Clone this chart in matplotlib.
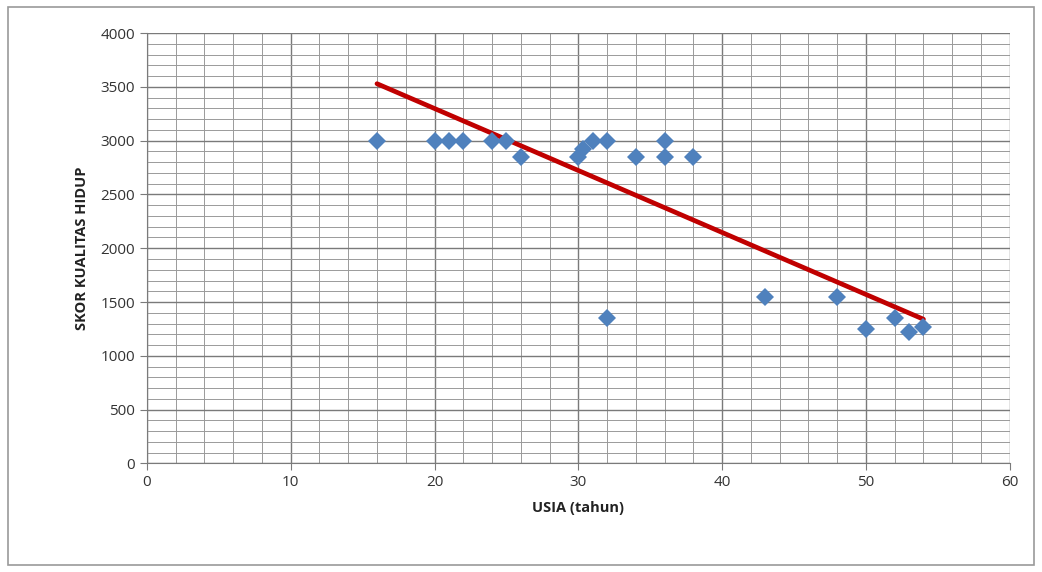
import matplotlib
matplotlib.use("Agg")
from matplotlib import pyplot as plt
from matplotlib.patches import Rectangle

# usia (tahun) vs skor kualitas hidup
usia = [16, 20, 21, 22, 24, 25, 26, 30, 30.3, 31, 32, 32, 34, 36, 36, 38,
        43, 48, 50, 52, 53, 54]
skor = [3000, 3000, 3000, 3000, 3000, 3000, 2850, 2850, 2920, 3000, 3000,
        1350, 2850, 3000, 2850, 2850, 1550, 1550, 1250, 1350, 1220, 1270]

# trendline endpoints
trend_x = [16, 54]
trend_y = [3530, 1340]

xticks = [0, 10, 20, 30, 40, 50, 60]
yticks = [0, 500, 1000, 1500, 2000, 2500, 3000, 3500, 4000]

plt.rcParams["font.family"] = ["Open Sans", "DejaVu Sans"]

fig = plt.figure(figsize=(10.42, 5.72), dpi=100)
fig.patches.append(Rectangle((0.008, 0.012), 0.984, 0.976, transform=fig.transFigure,
                             fill=False, edgecolor="#9a9a9a", linewidth=1.2))

ax = fig.add_axes([0.141, 0.19, 0.828, 0.752])
ax.set_xlim(0, 60)
ax.set_ylim(0, 4000)
ax.set_xticks(xticks)
ax.set_yticks(yticks)
ax.set_xticks(range(0, 61, 2), minor=True)
ax.set_yticks(range(0, 4001, 100), minor=True)

ax.grid(which="major", color="#7a7a7a", linewidth=1.0)
ax.grid(which="minor", color="#9a9a9a", linewidth=0.7)
ax.set_axisbelow(True)

for s in ["top", "right"]:
    ax.spines[s].set_visible(False)
for s in ["left", "bottom"]:
    ax.spines[s].set_color("#7a7a7a")

ax.tick_params(which="major", direction="out", length=5, color="#7a7a7a",
               labelsize=11, labelcolor="#333333")
ax.tick_params(which="minor", length=0)

ax.plot(trend_x, trend_y, color="#c00000", linewidth=3.4, solid_capstyle="round", zorder=3)
ax.plot(usia, skor, "D", color="#4f81bd", markersize=9, markeredgewidth=0, zorder=4)

ax.set_xlabel("USIA (tahun)", fontsize=10.5, fontweight="bold", color="#222222", labelpad=8)
ax.set_ylabel("SKOR KUALITAS HIDUP", fontsize=10.5, fontweight="bold", color="#222222", labelpad=8)

fig.savefig("out.png", dpi=100)
